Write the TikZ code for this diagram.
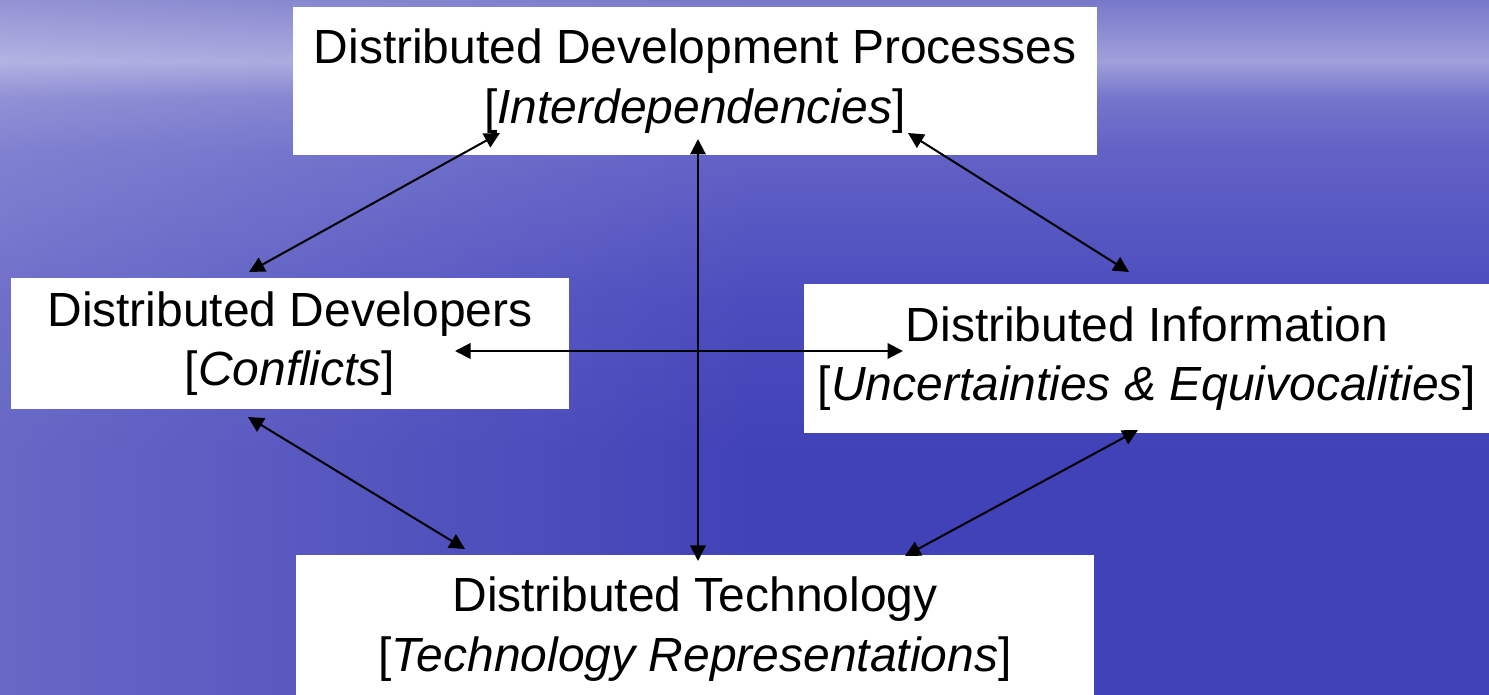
\documentclass[tikz,border=0pt]{standalone}
\usepackage{fontspec}
\setmainfont{Liberation Sans}
\usetikzlibrary{arrows.meta,fadings}

\definecolor{skytop}{RGB}{120,120,202}
\definecolor{skyhaze}{RGB}{138,138,210}
\definecolor{horizon}{RGB}{160,160,220}
\definecolor{skylow}{RGB}{118,118,204}
\definecolor{seahigh}{RGB}{98,98,198}
\definecolor{seamid}{RGB}{76,76,190}
\definecolor{seadeep}{RGB}{66,66,184}
% the path covers 25bp..75bp of the shading
\pgfdeclareverticalshading{seasky}{100bp}{
  color(0bp)=(seadeep); color(42.6bp)=(seadeep); color(53.4bp)=(seamid);
  color(64.2bp)=(seahigh); color(68bp)=(skylow); color(70.6bp)=(horizon);
  color(73bp)=(skyhaze); color(75bp)=(skytop); color(100bp)=(skytop)}

\tikzset{
  topic/.style = {fill=white, align=center, inner sep=0pt,
                  font=\fontsize{27.3}{34}\selectfont},
  link/.style  = {{Triangle[length=3.1mm,width=3.1mm]}-{Triangle[length=3.1mm,width=3.1mm]},
                  line width=1.15pt},
}

\begin{document}
\begin{tikzpicture}[x=0.02cm,y=-0.02cm]
  \useasboundingbox (0,0) rectangle (1489,695);
  \clip (0,0) rectangle (1489,695);
  % sky and sea
  \shade[shading=seasky] (0,0) rectangle (1489,695);
  \fill[white, opacity=0.2, path fading=east] (0,0) rectangle (760,695);

  % the four topics
  \node[topic, minimum width=16.08cm, minimum height=2.96cm] (proc) at (695,81)
    {Distributed Development Processes\\{[}\textit{Interdependencies}{]}};
  \node[topic, minimum width=11.16cm, minimum height=2.62cm] (dev) at (290,343.5)
    {Distributed Developers\\{[}\textit{Conflicts}{]}};
  \node[topic, minimum width=13.72cm, minimum height=2.98cm] (info) at (1147,358.5)
    {Distributed Information\\{[}\textit{Uncertainties \& Equivocalities}{]}};
  \node[topic, minimum width=15.96cm, minimum height=2.96cm] (tech) at (695,629)
    {Distributed Technology\\{[}\textit{Technology Representations}{]}};

  % arrow ends
  \coordinate (procL) at (500,133);  \coordinate (devT)  at (249,272);
  \coordinate (procR) at (908,133);  \coordinate (infoT) at (1129,272);
  \coordinate (procB) at (698,139);  \coordinate (techT) at (698,561);
  \coordinate (devR)  at (455,351);  \coordinate (infoL) at (903,351);
  \coordinate (devB)  at (248,417);  \coordinate (techL) at (465,549);
  \coordinate (infoB) at (1138,430); \coordinate (techR) at (905,556);

  \draw[link] (procL) -- (devT);
  \draw[link] (procR) -- (infoT);
  \draw[link] (procB) -- (techT);
  \draw[link] (devR) -- (infoL);
  \draw[link] (devB) -- (techL);
  \draw[link] (infoB) -- (techR);
\end{tikzpicture}
\end{document}
